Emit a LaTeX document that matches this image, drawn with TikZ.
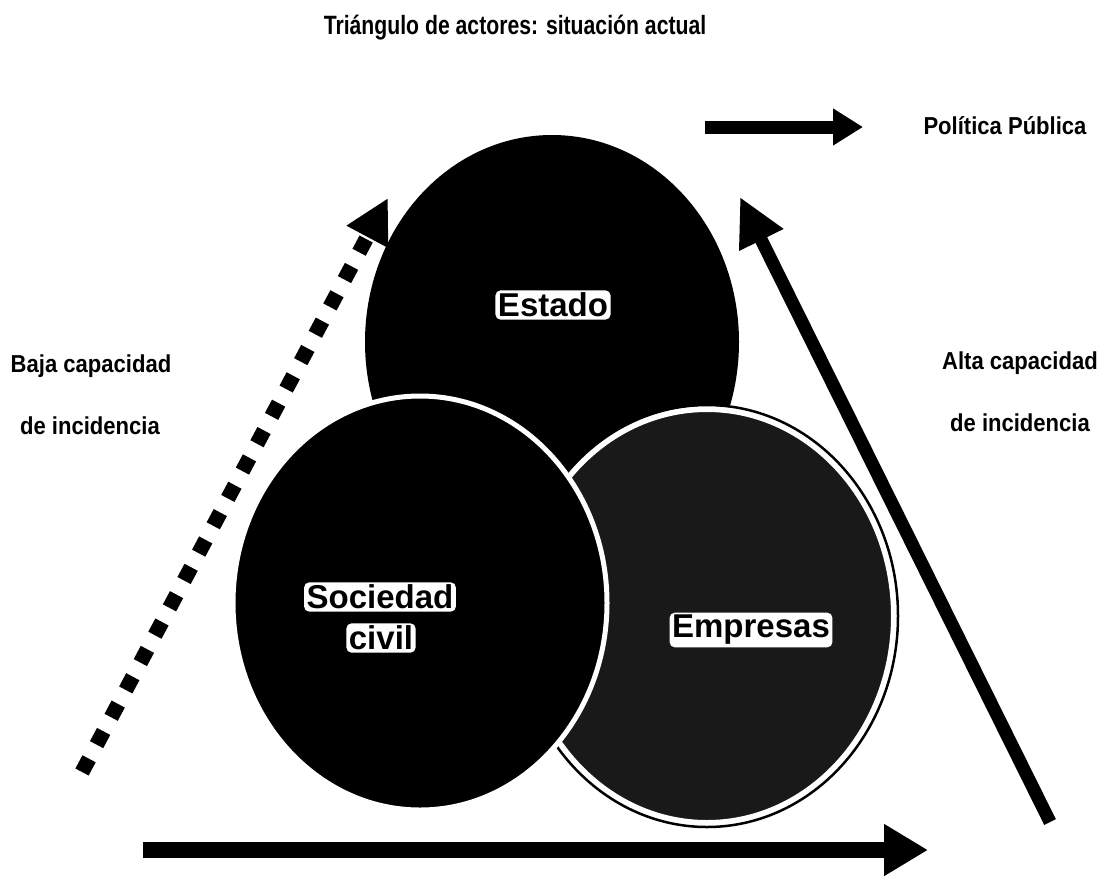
\documentclass[tikz,border=0pt]{standalone}
\usepackage{fontspec}
\setmainfont{Liberation Sans}
\newfontfamily\titlefont[FakeStretch=0.8]{Liberation Sans}
\newfontfamily\sidefont[FakeStretch=0.9]{Liberation Sans}
\usetikzlibrary{arrows.meta,shapes.geometric}
\begin{document}
\begin{tikzpicture}[x=1pt,y=-1pt,
  actor/.style={ellipse,inner sep=0pt,minimum width=374pt,minimum height=414pt},
  tag/.style={fill=white,rounded corners=5pt,inner sep=2.5pt,text=black,font=\bfseries\fontsize{33}{36}\selectfont},
  side/.style={font=\sidefont\bfseries\fontsize{24.5}{26}\selectfont,text=black},
  titlestyle/.style={font=\titlefont\bfseries\fontsize{26.5}{28}\selectfont,text=black}
]
\useasboundingbox (0,0) rectangle (1102,895);
\fill[white] (0,0) rectangle (1102,895);

% title
\node[titlestyle] (title) at (515,28) {Triángulo de actores: situación actual};

% actors
\node[actor,fill=black] (estado) at (552,342) {};
\node[actor,fill=black!90,draw=white,line width=6pt] (empresas) at (707,616) {};
\draw[black,line width=2.5pt] (empresas.center) ellipse [x radius=191pt,y radius=211pt];
\node[actor,fill=black,draw=white,line width=5pt] (sociedad) at (420,603) {};

\node[tag] (estadotxt) at (553,305) {Estado};
\node[tag] (soctxt) at (380,597) {Sociedad};
\node[tag] (civtxt) at (381,638) {civil};
\node[tag] (emptxt) at (751,630) {Empresas};

% arrows
\coordinate (dotA) at (82,772);
\coordinate (dotB) at (388,198);
\draw[line width=15pt,dash pattern=on 15pt off 16pt,-{Triangle[length=44pt,width=44pt]}] (dotA) -- (dotB);

\coordinate (altaA) at (1050,822);
\coordinate (altaB) at (740,197);
\draw[line width=13pt,-{Triangle[length=48pt,width=46pt]}] (altaA) -- (altaB);

\coordinate (baseA) at (143,850);
\coordinate (baseB) at (928,850);
\draw[line width=16pt,-{Triangle[length=44pt,width=49pt]}] (baseA) -- (baseB);

\coordinate (polA) at (705,127);
\coordinate (polB) at (863,127);
\draw[line width=13pt,-{Triangle[length=30pt,width=35pt]}] (polA) -- (polB);

% side labels
\node[side] (pol) at (1005,126) {Política Pública};
\node[side] (baja1) at (91,366) {Baja capacidad};
\node[side] (baja2) at (90,426) {de incidencia};
\node[side] (alta1) at (1020,363) {Alta capacidad};
\node[side] (alta2) at (1020,423) {de incidencia};
\end{tikzpicture}
\end{document}
